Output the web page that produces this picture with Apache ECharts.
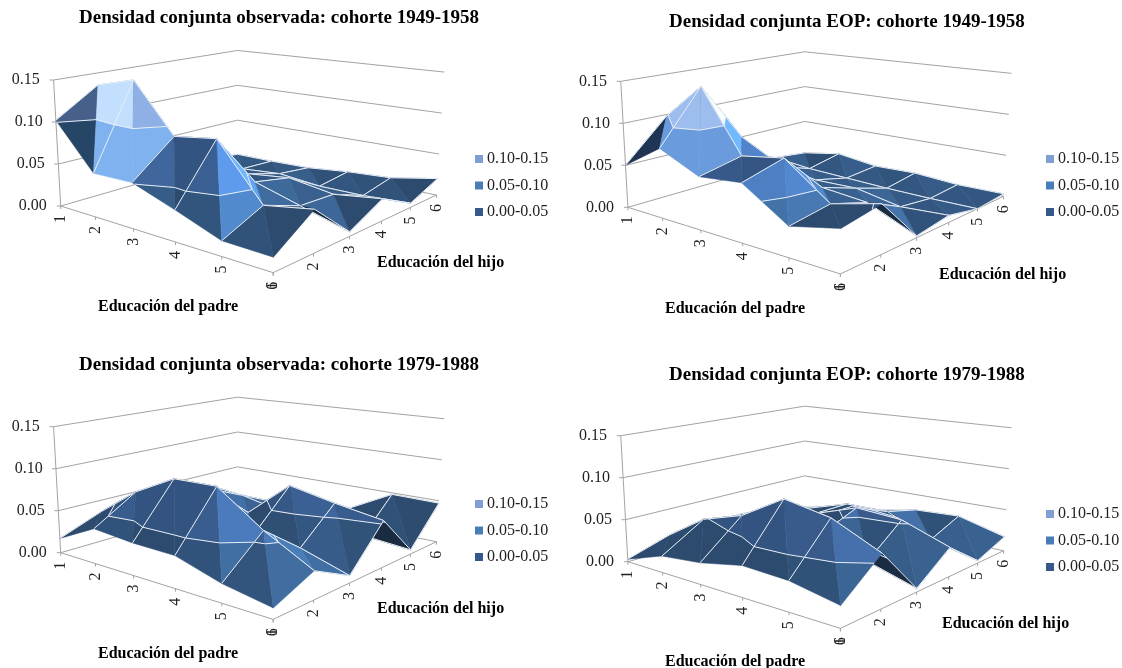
<!DOCTYPE html>
<html><head><meta charset="utf-8"><style>html,body{margin:0;padding:0;background:#fff}#c{width:1122px;height:668px}</style>
<script src="https://cdn.jsdelivr.net/npm/echarts@6/dist/echarts.min.js"></script></head>
<body><div id="c"></div>
<script>
// Data: density by father's education (rows, 1..6) and son's education (columns, 1..6)
const obs4958 = [
 [.102,.135,.09,.04,.005,.001],
 [.05,.148,.06,.03,.003,.001],
 [.051,.09,.05,.02,.007,.002],
 [.034,.097,.035,.026,.002,.007],
 [.016,.036,.02,.018,.002,.01],
 [.015,.045,.005,.025,.005,.02]];
const eop4958 = [
 [.05,.098,.06,.03,.01,.005],
 [.08,.142,.07,.02,.005,.013],
 [.059,.069,.045,.014,.003,.006],
 [.064,.077,.03,.015,.001,.007],
 [.032,.039,.025,.005,0,.003],
 [.044,.052,.002,.008,0,.003]];
const obs7988 = [
 [.017,.036,.05,.045,.035,.005],
 [.04,.07,.07,.05,.03,.01],
 [.036,.095,.07,.03,.02,.015],
 [.035,.096,.03,.073,.045,.02],
 [.02,.059,.025,.062,.01,.048],
 [.011,.03,.008,.053,.005,.047]];
const eop7988 = [
 [.003,.018,.02,.02,.015,.005],
 [.019,.048,.04,.03,.025,.016],
 [.024,.063,.06,.04,.04,.02],
 [.034,.092,.04,.057,.04,.03],
 [.032,.082,.02,.053,.016,.032],
 [.022,.057,.004,.033,.003,.017]];
const eduLabels = ['1','2','3','4','5','6'];
const zTicks = [0,.05,.10,.15];
const bandNames = ['0.00-0.05','0.05-0.10','0.10-0.15'];
const titles = ['Densidad conjunta observada: cohorte 1949-1958','Densidad conjunta EOP: cohorte 1949-1958','Densidad conjunta observada: cohorte 1979-1988','Densidad conjunta EOP: cohorte 1979-1988'];
const padreName = 'Educación del padre', hijoName = 'Educación del hijo';

// Layout
const panels = [
 {m:obs4958, ax:60.7, ay:206,   title:[79,9],   hijo:[377,255], padre:[98,299], legend:[475,151]},
 {m:eop4958, ax:627.9,ay:207.3, title:[669,13], hijo:[939,267], padre:[665,301], legend:[1046,151]},
 {m:obs7988, ax:60.7, ay:552.7, title:[79,356], hijo:[377,601], padre:[98,646], legend:[475,496]},
 {m:eop7988, ax:627.9,ay:561.7, title:[669,366],hijo:[942,616], padre:[665,654], legend:[1046,506]}];
const GW=400, GH=126, FONT='"Liberation Serif"';
const bandBase=[[52,88,130],[60,98,150],[130,160,208]];
const legendColors=['#35598a','#4a7cb8','#7f9fd3'];
const LEVELS=[0,.05,.10,.15];
// Facet colour overrides, [below .05, .05-.10, above .10], keyed panel:i:j:triangle
const shade={
 '0:0:0:1':['#223a59','#264668','#46608a'],'0:0:0:2':['#35587f','#80b2ef','#c2dffd'],'0:1:0:1':['#35587f','#80b2ef','#c2dffd'],'0:1:0:2':['#35587f','#80b2ef','#8fb0e5'],
 '1:0:0:1':['#1f3554','#1f3554','#1f3554'],'1:0:0:2':['#35587f','#6a9bdc','#9dbdee'],'1:1:0:1':['#35587f','#6a9bdc','#9dbdee'],'1:1:0:2':['#35587f','#6a9bdc','#9dbdee']};

// Camera: floor corners as offsets from the front-left corner
const C={bx:595,by:200,cx:1052,cy:-33,dx:495,dy:-153};
(function(){const sx=-C.bx+C.cx-C.dx, sy=-C.by+C.cy-C.dy, d1x=C.bx-C.cx, d2x=C.dx-C.cx, d1y=C.by-C.cy, d2y=C.dy-C.cy, det=d1x*d2y-d2x*d1y;
 C.g=(sx*d2y-d2x*sy)/det; C.h=(d1x*sy-sx*d1y)/det; C.a=C.bx*(1+C.g); C.b=C.dx*(1+C.h); C.d=C.by*(1+C.g); C.e=C.dy*(1+C.h);})();
function project(i,j,z){const u=i/5,v=j/5,w=1+C.g*u+C.h*v,fx=(C.a*u+C.b*v)/w,fy=(C.d*u+C.e*v)/w,hz=z/.05*126/Math.pow(w,.85);
 return [(fx+(fx-C.dx)*1.07e-4*hz)/2.8,(fy-hz)/3];}
function pt(api,p){return api.coord([p[0]/GW,-p[1]/GH*.15]);}
function P(api,v){return pt(api,project(v[0],v[1],v[2]));}

function clip(poly,lo,hi){
 const cut=(pts,keep,lev)=>{const out=[];for(let k=0;k<pts.length;k++){const a=pts[k],b=pts[(k+1)%pts.length],ka=keep(a[2]),kb=keep(b[2]);
  if(ka)out.push(a); if(ka!==kb){const t=(lev-a[2])/(b[2]-a[2]);out.push([a[0]+t*(b[0]-a[0]),a[1]+t*(b[1]-a[1]),lev]);}}return out;};
 let r=cut(poly,z=>z>=lo,lo); if(r.length) r=cut(r,z=>z<=hi,hi); return r;}
function contour(tri,lev){const out=[];for(let k=0;k<3;k++){const a=tri[k],b=tri[(k+1)%3];
 if((a[2]-lev)*(b[2]-lev)<0){const t=(lev-a[2])/(b[2]-a[2]);out.push([a[0]+t*(b[0]-a[0]),a[1]+t*(b[1]-a[1]),lev]);}}return out;}
function col(c,f){return 'rgb('+c.map(x=>Math.round(Math.min(255,x*f))).join(',')+')';}
const line=(pts,stroke,w)=>({type:'polyline',shape:{points:pts},style:{stroke:stroke,lineWidth:w,fill:null},silent:true});

function triPieces(api,tri,dzdi,dzdj,key,children){
 const s=tri.map(v=>P(api,v));
 const cross=(s[1][0]-s[0][0])*(s[2][1]-s[0][1])-(s[1][1]-s[0][1])*(s[2][0]-s[0][0]);
 const over=shade[key];
 const under=cross>0&&!over;
 const f=Math.max(.85,Math.min(1.9,1+10.6*(-dzdi)-3.5*dzdj));
 for(let b=0;b<3;b++){const piece=clip(tri,LEVELS[b],LEVELS[b+1]);if(piece.length<3)continue;
  const pts=piece.map(v=>P(api,v)),fill=over?over[b]:(under?'rgb(26,44,66)':col(bandBase[b],f));
  children.push({type:'polygon',shape:{points:pts},style:{fill:fill,stroke:fill,lineWidth:.5},silent:true});}
}
function surfaceSeries(p,idx){
 const rows=[];for(let i=0;i<5;i++)for(let j=4;j>=0;j--)rows.push([i,j,p.m[i][j],p.m[i+1][j],p.m[i][j+1],p.m[i+1][j+1]]);
 return {type:'custom',xAxisIndex:idx,yAxisIndex:idx,coordinateSystem:'cartesian2d',silent:true,animation:false,data:rows,z:3,
  renderItem(params,api){
   const i=api.value(0),j=api.value(1),a=api.value(2),b=api.value(3),c=api.value(4),d=api.value(5),children=[];
   const n00=[i,j,a],n10=[i+1,j,b],n01=[i,j+1,c],n11=[i+1,j+1,d];
   const t1=[n00,n10,n01],t2=[n10,n11,n01];
   triPieces(api,t1,b-a,c-a,idx+':'+i+':'+j+':1',children); triPieces(api,t2,d-c,d-b,idx+':'+i+':'+j+':2',children);
   const W='#e8eef6';
   for(const t of [t1,t2])for(const lev of [.05,.10]){const k=contour(t,lev);if(k.length===2)children.push(line(k.map(v=>P(api,v)),W,1));}
   children.push(line([P(api,n00),P(api,n01)],W,1));
   if(j>=1)children.push(line([P(api,n00),P(api,n10)],W,1));
   children.push(line([P(api,n01),P(api,n11)],W,1));
   if(j>=1)children.push(line([P(api,n10),P(api,n11)],W,1));
   return {type:'group',children};
  }};
}
function frameSeries(idx){
 return {type:'custom',xAxisIndex:idx,yAxisIndex:idx,coordinateSystem:'cartesian2d',silent:true,animation:false,data:[[0,0]],z:2,
  renderItem(params,api){
   const G='#a3a3a3',ch=[];
   for(const z of zTicks) ch.push(line([P(api,[0,0,z]),P(api,[0,5,z]),P(api,[5,5,z])],G,1));
   ch.push(line([P(api,[0,0,0]),P(api,[0,0,.15])],G,1));
   ch.push(line([P(api,[0,0,0]),P(api,[5,0,0]),P(api,[5,5,0])],G,1));
   for(const z of zTicks){const q=P(api,[0,0,z]);ch.push(line([q,[q[0]-4,q[1]]],G,1));}
   const text=(q,s)=>({type:'text',x:q[0],y:q[1]+13,rotation:Math.PI/2,silent:true,style:{text:s,fill:'#222',font:'16px '+FONT,textAlign:'center',textVerticalAlign:'middle'}});
   eduLabels.forEach((s,k)=>{
    const q=P(api,[k,0,0]),r=P(api,[5,k,0]);
    ch.push(line([q,[q[0],q[1]+3]],G,1),line([r,[r[0],r[1]+3]],G,1));
    ch.push(text(q,s),text(r,s));
   });
   return {type:'group',children:ch};
  }};
}
const padRight={'0.15':7,'0.10':4,'0.05':2,'0.00':0};
const option={
 backgroundColor:'#fff',animation:false,
 title:panels.flatMap((p,k)=>[
  {text:titles[k],left:p.title[0],top:p.title[1],textStyle:{fontFamily:FONT,fontWeight:'bold',fontSize:19,color:'#000'},padding:0},
  {text:hijoName,left:p.hijo[0],top:p.hijo[1],textStyle:{fontFamily:FONT,fontWeight:'bold',fontSize:16,color:'#000'},padding:0},
  {text:padreName,left:p.padre[0],top:p.padre[1],textStyle:{fontFamily:FONT,fontWeight:'bold',fontSize:16,color:'#000'},padding:0}]),
 legend:panels.map(p=>({left:p.legend[0],top:p.legend[1],orient:'vertical',itemGap:10.5,itemWidth:8,itemHeight:8,icon:'rect',padding:0,selectedMode:false,
  data:[bandNames[2],bandNames[1],bandNames[0]],textStyle:{fontFamily:FONT,fontSize:16,color:'#222',padding:[0,0,0,-1]}})),
 grid:panels.map(p=>({left:p.ax,top:p.ay-GH,width:GW,height:GH,containLabel:false})),
 xAxis:panels.map((p,k)=>({type:'value',gridIndex:k,min:0,max:1,show:false})),
 yAxis:panels.map((p,k)=>({type:'value',gridIndex:k,min:0,max:.15,interval:.05,
  axisLine:{show:false},axisTick:{show:false},splitLine:{show:false},
  axisLabel:{margin:14,formatter:v=>{const s=v.toFixed(2);return '{l'+Math.round(v*100)+'|'+s+'}';},
   rich:Object.fromEntries(zTicks.map(v=>['l'+Math.round(v*100),{fontFamily:FONT,fontSize:16,color:'#222',padding:[0,padRight[v.toFixed(2)],0,0]}]))}})),
 series:[
  ...panels.map((p,k)=>frameSeries(k)),
  ...panels.map((p,k)=>surfaceSeries(p,k)),
  ...bandNames.map((n,b)=>({type:'custom',name:n,coordinateSystem:'cartesian2d',xAxisIndex:0,yAxisIndex:0,data:[],itemStyle:{color:legendColors[b]},renderItem(){return null;}}))
 ]};
const chart=echarts.init(document.getElementById('c'),null,{renderer:'canvas',width:1122,height:668});
chart.setOption(option);
</script></body></html>
